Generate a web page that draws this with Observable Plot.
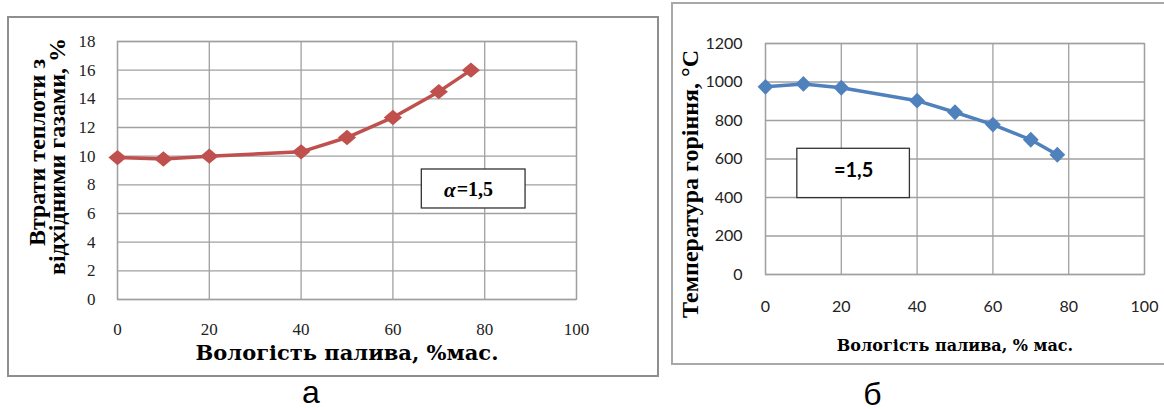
<!DOCTYPE html>
<html><head><meta charset="utf-8">
<script src="https://cdn.jsdelivr.net/npm/d3@7"></script>
<script src="https://cdn.jsdelivr.net/npm/@observablehq/plot@0.6"></script>
<style>
body{margin:0;background:#fff;}
#wrap{position:relative;width:1164px;height:410px;overflow:hidden;background:#fff;}
.panel{position:absolute;box-sizing:border-box;}
#wrap svg{position:absolute;top:0;}
</style></head><body>
<div id="wrap">
  <div class="panel" style="left:7px;top:16px;width:652px;height:361px;border:2px solid #8e8e8e;"></div>
  <div class="panel" style="left:671px;top:2px;width:500px;height:363px;border:2px solid #a8a8a8;"></div>
</div>
<script>
// ---- data ----
const moisture = [0, 10, 20, 40, 50, 60, 70, 77];
const heatLoss = [9.9, 9.8, 10.0, 10.3, 11.3, 12.7, 14.5, 16.0];
const combustionTemp = [975, 990, 970, 903, 843, 779, 700, 622];
const xTicks = [0, 20, 40, 60, 80, 100];
const yTicksLoss = [0, 2, 4, 6, 8, 10, 12, 14, 16, 18];
const yTicksTemp = [0, 200, 400, 600, 800, 1000, 1200];
const yTitleLoss = ["Втрати теплоти з", "відхідними газами, %"];
const yTitleTemp = "Температура горіння, °С";
const xTitleLoss = "Вологість палива, %мас.";
const xTitleTemp = "Вологість палива, % мас.";
const panelLabels = ["а", "б"];
const alphaLabel = ["α", "=1,5"];
// annotation boxes (in data units)
const annotLoss = [{x1: 66.3, x2: 88.9, y1: 6.35, y2: 9.07, cx: 77.6, cy: 7.71}];
const annotTemp = [{x1: 8.4, x2: 38.1, y1: 397, y2: 653, cx: 23.25, cy: 525}];

const lossData = moisture.map((m, i) => ({x: m, y: heatLoss[i]}));
const tempData = moisture.map((m, i) => ({x: m, y: combustionTemp[i]}));

function diamond(wf, hf) {
  return {draw(ctx, size) {
    const r = Math.sqrt(size / Math.PI);
    const w = r * wf, h = r * hf;
    ctx.moveTo(0, -h); ctx.lineTo(w, 0); ctx.lineTo(0, h); ctx.lineTo(-w, 0); ctx.closePath();
  }};
}

const gridStyle = {stroke: "#a0a0a0", strokeOpacity: 1, strokeWidth: 1.3};
const svgStyle = {background: "transparent", overflow: "visible", maxWidth: "none"};

const serif = "'Liberation Serif', 'Times New Roman', serif";
const serifWide = "'DejaVu Serif', serif";
const sans = "Lato, 'Liberation Sans', sans-serif";
const armSans = "'Liberation Sans', Arial, sans-serif";

const left = Plot.plot({
  width: 660, height: 410,
  marginLeft: 117, marginRight: 84, marginTop: 41, marginBottom: 111,
  x: {domain: [0, 100], axis: null},
  y: {domain: [0, 18], axis: null},
  style: svgStyle,
  marks: [
    Plot.gridX(xTicks, gridStyle),
    Plot.gridY(yTicksLoss, gridStyle),
    Plot.frame({stroke: "#a0a0a0", strokeWidth: 1.3}),
    Plot.text(xTicks, {x: d => d, frameAnchor: "bottom", dy: 35, text: d => String(d), fontSize: 17, fontFamily: serif, fill: "#222"}),
    Plot.text(yTicksLoss, {y: d => d, frameAnchor: "left", textAnchor: "end", dx: -22, text: d => String(d), fontSize: 17, fontFamily: serif, fill: "#222"}),
    Plot.rect(annotLoss, {x1: "x1", x2: "x2", y1: "y1", y2: "y2", fill: "white", stroke: "#333", strokeWidth: 1.3}),
    Plot.text(annotLoss, {x: "cx", y: "cy", text: () => alphaLabel[0], textAnchor: "end", dx: -18, dy: 1, fontSize: 21, fontWeight: "bold", fontStyle: "italic", fontFamily: serif, fill: "#000"}),
    Plot.text(annotLoss, {x: "cx", y: "cy", text: () => alphaLabel[1], textAnchor: "start", dx: -17, dy: 1, fontSize: 20, fontWeight: "bold", fontFamily: serif, fill: "#000"}),
    Plot.line(lossData, {x: "x", y: "y", stroke: "#C0504D", strokeWidth: 3.5}),
    Plot.dot(lossData, {x: "x", y: "y", symbol: diamond(1.3, 1.1), r: 7, fill: "#C0504D", stroke: "none"}),
    Plot.text([yTitleLoss[0]], {frameAnchor: "left", textAnchor: "middle", rotate: -90, dx: -80, dy: -18, fontSize: 24, fontWeight: "bold", fontFamily: serif, fill: "#000"}),
    Plot.text([yTitleLoss[1]], {frameAnchor: "left", textAnchor: "middle", rotate: -90, dx: -60, dy: -14, fontSize: 24, fontWeight: "bold", fontFamily: serif, fill: "#000"}),
    Plot.text([xTitleLoss], {frameAnchor: "bottom", dy: 60, fontSize: 21, fontWeight: "bold", fontFamily: serifWide, fill: "#000"}),
    Plot.text([panelLabels[0]], {frameAnchor: "bottom", dx: -36, dy: 103, fontSize: 32, fontFamily: armSans, fill: "#000"})
  ]
});

const right = Plot.plot({
  width: 504, height: 410,
  marginLeft: 105, marginRight: 20, marginTop: 43, marginBottom: 136,
  x: {domain: [0, 100], axis: null},
  y: {domain: [0, 1200], axis: null},
  style: svgStyle,
  marks: [
    Plot.gridX(xTicks, gridStyle),
    Plot.gridY(yTicksTemp, gridStyle),
    Plot.frame({stroke: "#a0a0a0", strokeWidth: 1.3}),
    Plot.text(xTicks, {x: d => d, frameAnchor: "bottom", dy: 37, text: d => String(d), fontSize: 16, fontFamily: sans, fill: "#222"}),
    Plot.text(yTicksTemp, {y: d => d, frameAnchor: "left", textAnchor: "end", dx: -23, text: d => String(d), fontSize: 16, fontFamily: sans, fill: "#222"}),
    Plot.rect(annotTemp, {x1: "x1", x2: "x2", y1: "y1", y2: "y2", fill: "white", stroke: "#333", strokeWidth: 1.3}),
    Plot.text(annotTemp, {x: "cx", y: "cy", text: () => alphaLabel[1], dy: -3, fontSize: 20, fontWeight: "bold", fontFamily: sans, fill: "#000"}),
    Plot.line(tempData, {x: "x", y: "y", stroke: "#4F81BD", strokeWidth: 3.5}),
    Plot.dot(tempData, {x: "x", y: "y", symbol: diamond(1.13, 1.13), r: 7, fill: "#4F81BD", stroke: "none"}),
    Plot.text([yTitleTemp], {frameAnchor: "left", textAnchor: "middle", rotate: -90, dx: -75.5, dy: 25, fontSize: 24, fontWeight: "bold", fontFamily: serif, fill: "#000"}),
    Plot.text([xTitleTemp], {frameAnchor: "bottom", dy: 76, fontSize: 16, fontWeight: "bold", fontFamily: serifWide, fill: "#000"}),
    Plot.text([panelLabels[1]], {frameAnchor: "bottom", dx: -82.5, dy: 130, fontSize: 32, fontFamily: armSans, fill: "#000"})
  ]
});

left.style.left = "0px";
right.style.left = "660px";
document.getElementById("wrap").append(left, right);
</script>
</body></html>
